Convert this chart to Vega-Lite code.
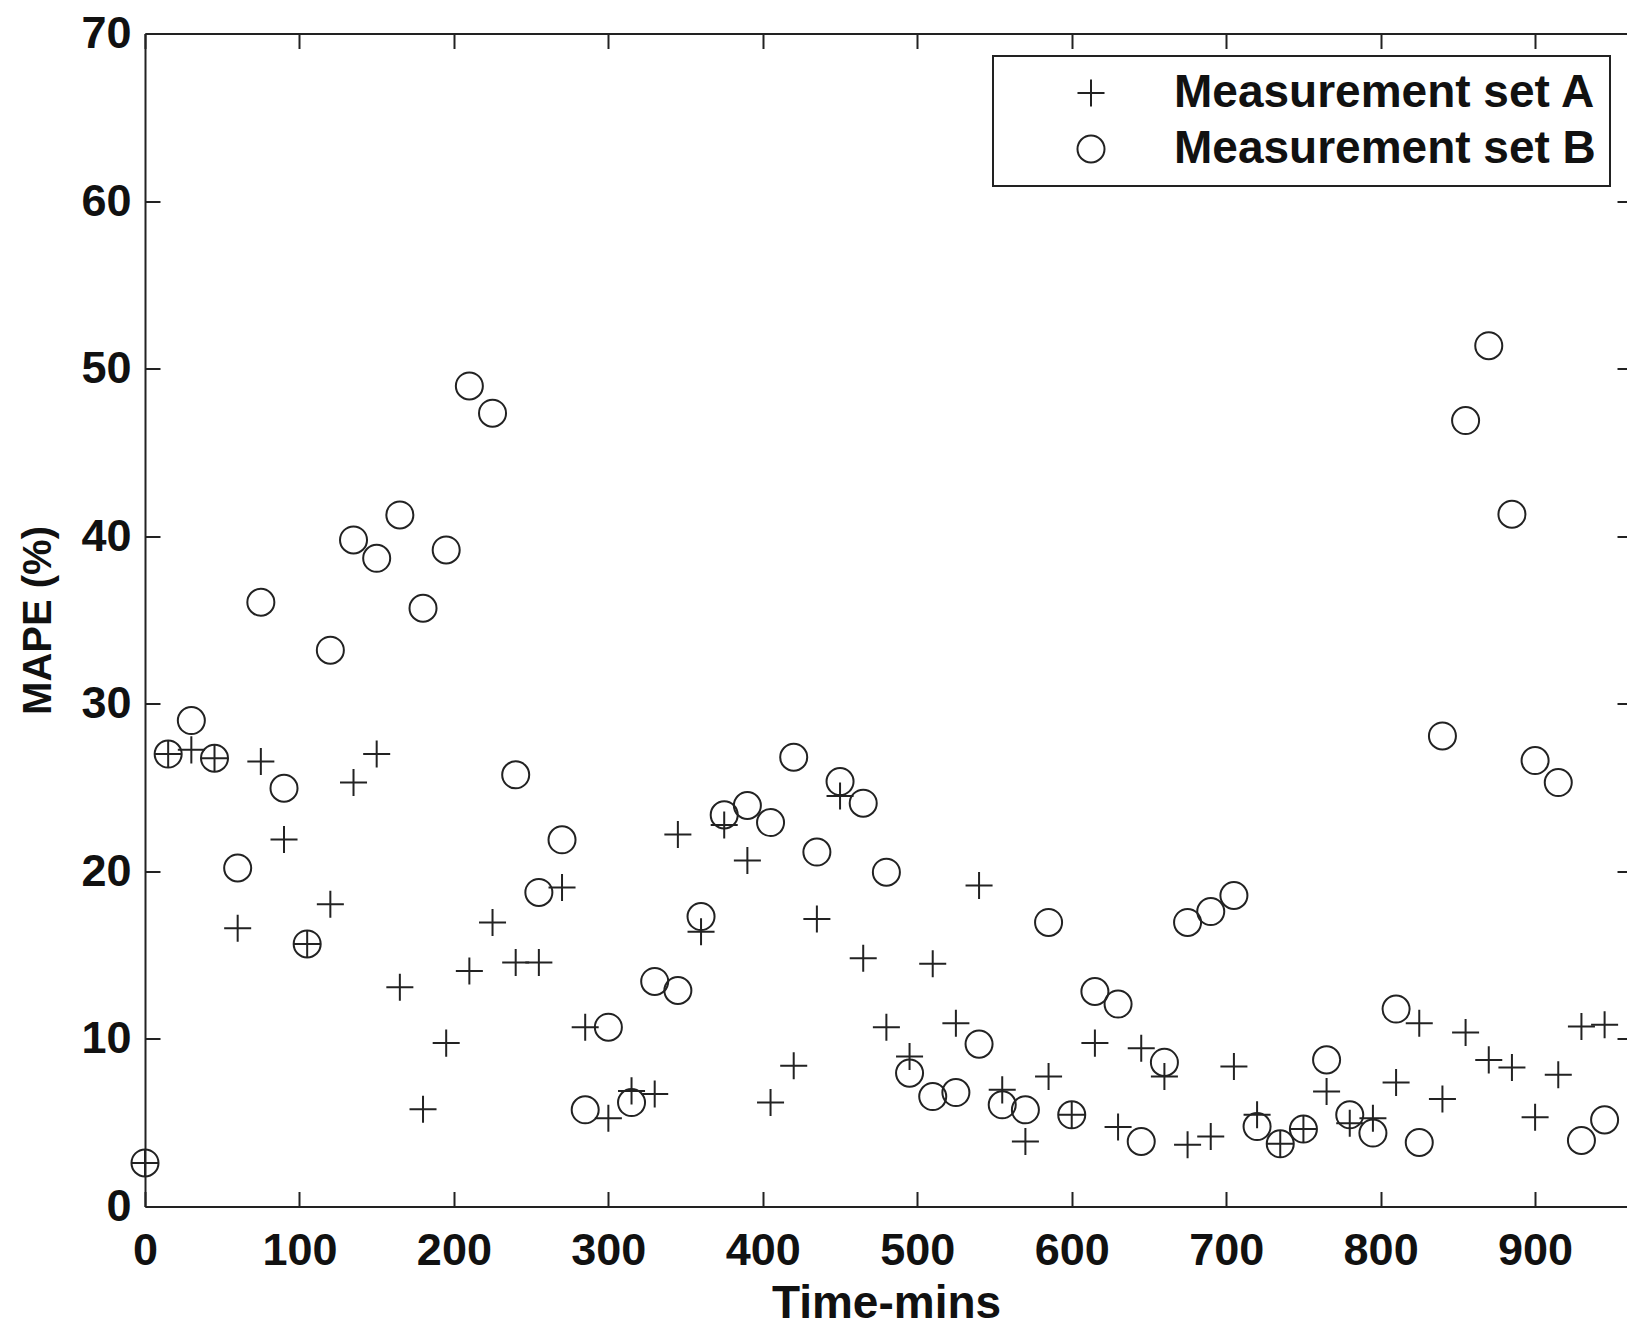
{
  "$schema": "https://vega.github.io/schema/vega-lite/v6.json",
  "autosize": "none",
  "width": 1482,
  "height": 1173,
  "padding": {"left": 145, "top": 33.5, "right": 0, "bottom": 125.5},
  "background": "white",
  "config": {
    "view": {"stroke": null},
    "font": "Liberation Sans",
    "axis": {
      "grid": false,
      "domainColor": "#222",
      "domainWidth": 2,
      "tickColor": "#222",
      "tickWidth": 2,
      "tickSize": -15,
      "labelFlush": false,
      "labelFont": "Liberation Sans",
      "labelFontWeight": "bold",
      "labelFontSize": 45,
      "labelColor": "#111",
      "titleFont": "Liberation Sans",
      "titleFontWeight": "bold",
      "titleColor": "#111"
    },
    "legend": {"strokeWidth": 2}
  },
  "data": {
    "values": [
      {"t": 0, "s": "Measurement set A", "v": 2.6},
      {"t": 15, "s": "Measurement set A", "v": 27.0},
      {"t": 30, "s": "Measurement set A", "v": 27.25},
      {"t": 45, "s": "Measurement set A", "v": 26.75},
      {"t": 60, "s": "Measurement set A", "v": 16.6},
      {"t": 75, "s": "Measurement set A", "v": 26.55},
      {"t": 90, "s": "Measurement set A", "v": 21.9},
      {"t": 105, "s": "Measurement set A", "v": 15.67},
      {"t": 120, "s": "Measurement set A", "v": 18.04},
      {"t": 135, "s": "Measurement set A", "v": 25.3},
      {"t": 150, "s": "Measurement set A", "v": 27.0},
      {"t": 165, "s": "Measurement set A", "v": 13.09},
      {"t": 180, "s": "Measurement set A", "v": 5.81},
      {"t": 195, "s": "Measurement set A", "v": 9.75},
      {"t": 210, "s": "Measurement set A", "v": 14.06},
      {"t": 225, "s": "Measurement set A", "v": 16.95},
      {"t": 240, "s": "Measurement set A", "v": 14.56},
      {"t": 255, "s": "Measurement set A", "v": 14.56},
      {"t": 270, "s": "Measurement set A", "v": 19.03},
      {"t": 285, "s": "Measurement set A", "v": 10.7},
      {"t": 300, "s": "Measurement set A", "v": 5.27},
      {"t": 315, "s": "Measurement set A", "v": 6.9},
      {"t": 330, "s": "Measurement set A", "v": 6.72},
      {"t": 345, "s": "Measurement set A", "v": 22.2},
      {"t": 360, "s": "Measurement set A", "v": 16.4},
      {"t": 375, "s": "Measurement set A", "v": 22.77},
      {"t": 390, "s": "Measurement set A", "v": 20.65},
      {"t": 405, "s": "Measurement set A", "v": 6.2},
      {"t": 420, "s": "Measurement set A", "v": 8.4},
      {"t": 435, "s": "Measurement set A", "v": 17.15},
      {"t": 450, "s": "Measurement set A", "v": 24.5},
      {"t": 465, "s": "Measurement set A", "v": 14.82},
      {"t": 480, "s": "Measurement set A", "v": 10.7},
      {"t": 495, "s": "Measurement set A", "v": 8.95},
      {"t": 510, "s": "Measurement set A", "v": 14.48},
      {"t": 525, "s": "Measurement set A", "v": 10.94},
      {"t": 540, "s": "Measurement set A", "v": 19.15},
      {"t": 555, "s": "Measurement set A", "v": 6.96},
      {"t": 570, "s": "Measurement set A", "v": 3.88},
      {"t": 585, "s": "Measurement set A", "v": 7.76},
      {"t": 600, "s": "Measurement set A", "v": 5.47},
      {"t": 615, "s": "Measurement set A", "v": 9.75},
      {"t": 630, "s": "Measurement set A", "v": 4.74},
      {"t": 645, "s": "Measurement set A", "v": 9.45},
      {"t": 660, "s": "Measurement set A", "v": 7.76},
      {"t": 675, "s": "Measurement set A", "v": 3.68},
      {"t": 690, "s": "Measurement set A", "v": 4.18},
      {"t": 705, "s": "Measurement set A", "v": 8.35},
      {"t": 720, "s": "Measurement set A", "v": 5.47},
      {"t": 735, "s": "Measurement set A", "v": 3.74},
      {"t": 750, "s": "Measurement set A", "v": 4.62},
      {"t": 765, "s": "Measurement set A", "v": 6.86},
      {"t": 780, "s": "Measurement set A", "v": 4.97},
      {"t": 795, "s": "Measurement set A", "v": 5.27},
      {"t": 810, "s": "Measurement set A", "v": 7.4},
      {"t": 825, "s": "Measurement set A", "v": 10.94},
      {"t": 840, "s": "Measurement set A", "v": 6.41},
      {"t": 855, "s": "Measurement set A", "v": 10.38},
      {"t": 870, "s": "Measurement set A", "v": 8.75},
      {"t": 885, "s": "Measurement set A", "v": 8.3},
      {"t": 900, "s": "Measurement set A", "v": 5.33},
      {"t": 915, "s": "Measurement set A", "v": 7.86},
      {"t": 930, "s": "Measurement set A", "v": 10.74},
      {"t": 945, "s": "Measurement set A", "v": 10.84},
      {"t": 0, "s": "Measurement set B", "v": 2.6},
      {"t": 15, "s": "Measurement set B", "v": 27.0},
      {"t": 30, "s": "Measurement set B", "v": 29.0},
      {"t": 45, "s": "Measurement set B", "v": 26.75},
      {"t": 60, "s": "Measurement set B", "v": 20.2},
      {"t": 75, "s": "Measurement set B", "v": 36.06},
      {"t": 90, "s": "Measurement set B", "v": 24.96},
      {"t": 105, "s": "Measurement set B", "v": 15.67},
      {"t": 120, "s": "Measurement set B", "v": 33.2},
      {"t": 135, "s": "Measurement set B", "v": 39.78},
      {"t": 150, "s": "Measurement set B", "v": 38.68},
      {"t": 165, "s": "Measurement set B", "v": 41.27},
      {"t": 180, "s": "Measurement set B", "v": 35.7},
      {"t": 195, "s": "Measurement set B", "v": 39.18},
      {"t": 210, "s": "Measurement set B", "v": 48.97},
      {"t": 225, "s": "Measurement set B", "v": 47.34},
      {"t": 240, "s": "Measurement set B", "v": 25.76},
      {"t": 255, "s": "Measurement set B", "v": 18.74},
      {"t": 270, "s": "Measurement set B", "v": 21.88},
      {"t": 285, "s": "Measurement set B", "v": 5.77},
      {"t": 300, "s": "Measurement set B", "v": 10.7},
      {"t": 315, "s": "Measurement set B", "v": 6.2},
      {"t": 330, "s": "Measurement set B", "v": 13.43},
      {"t": 345, "s": "Measurement set B", "v": 12.89},
      {"t": 360, "s": "Measurement set B", "v": 17.3},
      {"t": 375, "s": "Measurement set B", "v": 23.37},
      {"t": 390, "s": "Measurement set B", "v": 23.93},
      {"t": 405, "s": "Measurement set B", "v": 22.91},
      {"t": 420, "s": "Measurement set B", "v": 26.81},
      {"t": 435, "s": "Measurement set B", "v": 21.15},
      {"t": 450, "s": "Measurement set B", "v": 25.36},
      {"t": 465, "s": "Measurement set B", "v": 24.07},
      {"t": 480, "s": "Measurement set B", "v": 19.95},
      {"t": 495, "s": "Measurement set B", "v": 7.96},
      {"t": 510, "s": "Measurement set B", "v": 6.56},
      {"t": 525, "s": "Measurement set B", "v": 6.8},
      {"t": 540, "s": "Measurement set B", "v": 9.69},
      {"t": 555, "s": "Measurement set B", "v": 6.07},
      {"t": 570, "s": "Measurement set B", "v": 5.77},
      {"t": 585, "s": "Measurement set B", "v": 16.95},
      {"t": 600, "s": "Measurement set B", "v": 5.47},
      {"t": 615, "s": "Measurement set B", "v": 12.83},
      {"t": 630, "s": "Measurement set B", "v": 12.08},
      {"t": 645, "s": "Measurement set B", "v": 3.88},
      {"t": 660, "s": "Measurement set B", "v": 8.6},
      {"t": 675, "s": "Measurement set B", "v": 16.95},
      {"t": 690, "s": "Measurement set B", "v": 17.6},
      {"t": 705, "s": "Measurement set B", "v": 18.56},
      {"t": 720, "s": "Measurement set B", "v": 4.77},
      {"t": 735, "s": "Measurement set B", "v": 3.74},
      {"t": 750, "s": "Measurement set B", "v": 4.62},
      {"t": 765, "s": "Measurement set B", "v": 8.75},
      {"t": 780, "s": "Measurement set B", "v": 5.47},
      {"t": 795, "s": "Measurement set B", "v": 4.38},
      {"t": 810, "s": "Measurement set B", "v": 11.78},
      {"t": 825, "s": "Measurement set B", "v": 3.82},
      {"t": 840, "s": "Measurement set B", "v": 28.08},
      {"t": 855, "s": "Measurement set B", "v": 46.9},
      {"t": 870, "s": "Measurement set B", "v": 51.37},
      {"t": 885, "s": "Measurement set B", "v": 41.31},
      {"t": 900, "s": "Measurement set B", "v": 26.61},
      {"t": 915, "s": "Measurement set B", "v": 25.3},
      {"t": 930, "s": "Measurement set B", "v": 3.94},
      {"t": 945, "s": "Measurement set B", "v": 5.17}
    ]
  },
  "layer": [
    {
      "mark": {"type": "point", "filled": false, "strokeWidth": 2, "color": "#222", "size": 730, "opacity": 1},
      "encoding": {
        "x": {
          "field": "t", "type": "quantitative",
          "scale": {"domain": [0, 959.5], "nice": false, "zero": false},
          "axis": {"orient": "bottom", "values": [0, 100, 200, 300, 400, 500, 600, 700, 800, 900], "labelPadding": 37, "title": "Time-mins", "titleFontSize": 46, "titleBaseline": "alphabetic", "titleY": 111}
        },
        "y": {
          "field": "v", "type": "quantitative",
          "scale": {"domain": [0, 70], "nice": false},
          "axis": {"orient": "left", "values": [0, 10, 20, 30, 40, 50, 60, 70], "labelPadding": 29, "title": "MAPE (%)", "titleFontSize": 40, "titleAngle": -90, "titleBaseline": "alphabetic", "titleX": -95}
        },
        "shape": {
          "field": "s", "type": "nominal",
          "scale": {"domain": ["Measurement set A", "Measurement set B"], "range": ["M-1,0L1,0M0,-1L0,1", "circle"]},
          "legend": {
            "title": null,
            "orient": "none",
            "legendX": 848,
            "legendY": 22.5,
            "strokeColor": "#222",
            "fillColor": "white",
            "padding": 14,
            "rowPadding": 10,
            "symbolOffset": 61,
            "labelOffset": 60,
            "symbolSize": 730,
            "symbolStrokeWidth": 2,
            "symbolStrokeColor": "#222",
            "symbolFillColor": "transparent",
            "labelFont": "Liberation Sans",
            "labelFontWeight": "bold",
            "labelFontSize": 46,
            "labelColor": "#111",
            "labelLimit": 1000
          }
        }
      }
    },
    {
      "mark": {"type": "point", "opacity": 0},
      "encoding": {
        "x": {
          "field": "t", "type": "quantitative",
          "axis": {"orient": "top", "values": [0, 100, 200, 300, 400, 500, 600, 700, 800, 900], "labels": false, "title": null}
        },
        "y": {
          "field": "v", "type": "quantitative",
          "axis": {"orient": "right", "values": [0, 10, 20, 30, 40, 50, 60, 70], "labels": false, "title": null, "domain": false, "tickSize": -10}
        }
      }
    }
  ],
  "resolve": {"axis": {"x": "independent", "y": "independent"}}
}
